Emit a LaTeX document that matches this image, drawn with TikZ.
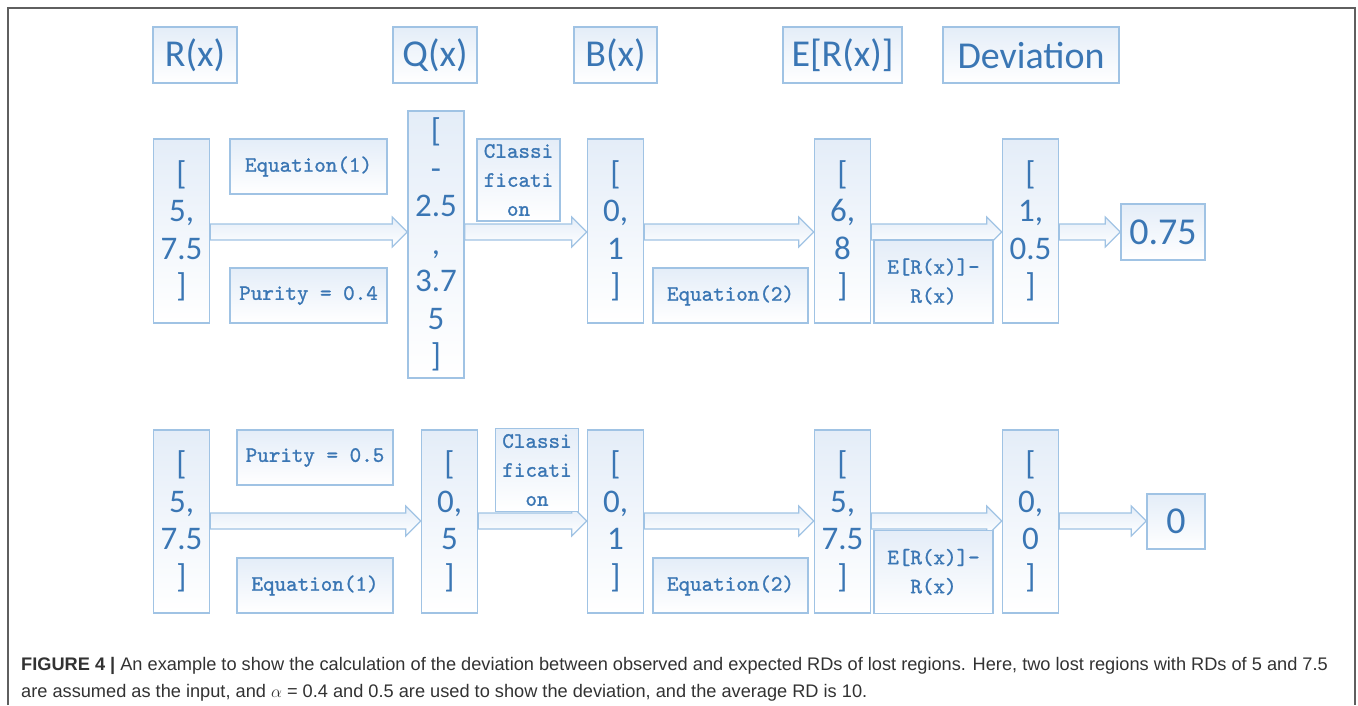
\documentclass[tikz,border=0pt]{standalone}
\usepackage{fontspec}
\setmainfont{Liberation Sans}
\newfontfamily\calfont{Carlito}
\newfontfamily\lblfont{lmmono10-regular.otf}[FakeBold=1.2]
\usetikzlibrary{calc}
\pgfdeclarelayer{background}
\pgfsetlayers{background,main}
\definecolor{txt}{RGB}{58,118,180}
\definecolor{bline}{RGB}{160,195,228}
\definecolor{btop}{RGB}{228,237,248}
\definecolor{framecol}{RGB}{95,95,95}
\definecolor{capcol}{RGB}{50,50,50}
\tikzset{
  box/.style={draw=bline, line width=1.5pt, top color=btop, bottom color=white, inner sep=0pt, text=txt, align=center, anchor=center},
  valbox/.style={box, minimum width=56, minimum height=184, font=\calfont\fontsize{33}{37.5}\selectfont},
  headbox/.style={box, minimum height=56, font=\calfont\fontsize{38}{40}\selectfont},
  lblbox/.style={box, font=\lblfont\fontsize{22}{29}\selectfont},
  farrow/.style={draw=bline, line width=1.2pt, top color=btop, bottom color=white},
  captext/.style={anchor=base west, inner sep=0pt, text=capcol, font=\fontsize{18.2}{27}\selectfont}
}
\newcommand{\fatarrow}[3]{%
  \path[farrow] let \p1=(#1.east |- #3), \p2=(#2.west |- #3) in
   (\x1,\y1+8) -- (\x2-15,\y1+8) -- (\x2-15,\y1+15) -- (\x2,\y1) -- (\x2-15,\y1-15) -- (\x2-15,\y1-8) -- (\x1,\y1-8) -- cycle;}
\begin{document}
\begin{tikzpicture}[x=1pt,y=-1pt]
\useasboundingbox (0,0) rectangle (1358,705);
\draw[framecol, line width=2pt] (8,705) -- (8,8) -- (1355,8) -- (1355,705);
% headers
\node[headbox, minimum width=84] (hR) at (195,55) {R(x)};
\node[headbox, minimum width=84] (hQ) at (435,55) {Q(x)};
\node[headbox, minimum width=83] (hB) at (615.5,55) {B(x)};
\node[headbox, minimum width=119] (hE) at (842.5,55) {E[R(x)]};
\node[headbox, minimum width=176] (hD) at (1031,55) {Deviation};
% row 1
\coordinate (r1) at (0,232);
\node[valbox] (a1) at (181.5,231) {[\\5,\\7.5\\]};
\node[lblbox, minimum width=157, minimum height=55] (eq1) at (308.5,166.5) {Equation(1)};
\node[lblbox, minimum width=157, minimum height=55] (pur1) at (308.5,295.5) {Purity = 0.4};
\node[valbox, minimum height=267] (q1) at (436,244.5) {[\\-\\2.5\\,\\3.7\\5\\]};
\node[lblbox, minimum width=83, minimum height=82] (cl1) at (518.5,180) {Classi\\ficati\\on};
\node[valbox] (b1) at (615.5,231) {[\\0,\\1\\]};
\node[lblbox, minimum width=155, minimum height=55] (eqb1) at (730.5,295.5) {Equation(2)};
\node[valbox] (e1) at (842.5,231) {[\\6,\\8\\]};
\node[lblbox, minimum width=119, minimum height=83] (ed1) at (933.5,281.5) {E[R(x)]-\\R(x)};
\node[valbox] (d1) at (1030.5,231) {[\\1,\\0.5\\]};
\node[headbox, minimum width=84] (v1) at (1163,232) {0.75};
% row 2
\coordinate (r2) at (0,521);
\node[valbox, minimum height=183] (a2) at (181.5,521.5) {[\\5,\\7.5\\]};
\node[lblbox, minimum width=156, minimum height=55] (pur2) at (315,457.5) {Purity = 0.5};
\node[lblbox, minimum width=156, minimum height=55] (eq2) at (315,585.5) {Equation(1)};
\node[valbox, minimum height=183] (q2) at (449.5,521.5) {[\\0,\\5\\]};
\node[lblbox, minimum width=83, minimum height=83] (cl2) at (537,470) {Classi\\ficati\\on};
\node[valbox, minimum height=183] (b2) at (615.5,521.5) {[\\0,\\1\\]};
\node[lblbox, minimum width=155, minimum height=55] (eqb2) at (730.5,585.5) {Equation(2)};
\node[valbox, minimum height=183] (e2) at (842.5,521.5) {[\\5,\\7.5\\]};
\node[lblbox, minimum width=119, minimum height=83] (ed2) at (933.5,572) {E[R(x)]-\\R(x)};
\node[valbox, minimum height=183] (d2) at (1030.5,521.5) {[\\0,\\0\\]};
\node[headbox, minimum width=58, minimum height=55] (v2) at (1176,521.5) {0};
% arrows
\begin{pgfonlayer}{background}
\fatarrow{a1}{q1}{r1}
\fatarrow{q1}{b1}{r1}
\fatarrow{b1}{e1}{r1}
\fatarrow{e1}{d1}{r1}
\fatarrow{d1}{v1}{r1}
\fatarrow{a2}{q2}{r2}
\fatarrow{q2}{b2}{r2}
\fatarrow{b2}{e2}{r2}
\fatarrow{e2}{d2}{r2}
\fatarrow{d2}{v2}{r2}
\end{pgfonlayer}
% caption
\node[captext] (cap1) at (21,670) {\textbf{FIGURE 4 |} An example to show the calculation of the deviation between observed and expected RDs of lost regions. Here, two lost regions with RDs of 5 and 7.5};
\node[captext] (cap2) at (21,697) {are assumed as the input, and $\alpha$ = 0.4 and 0.5 are used to show the deviation, and the average RD is 10.};
\end{tikzpicture}
\end{document}
